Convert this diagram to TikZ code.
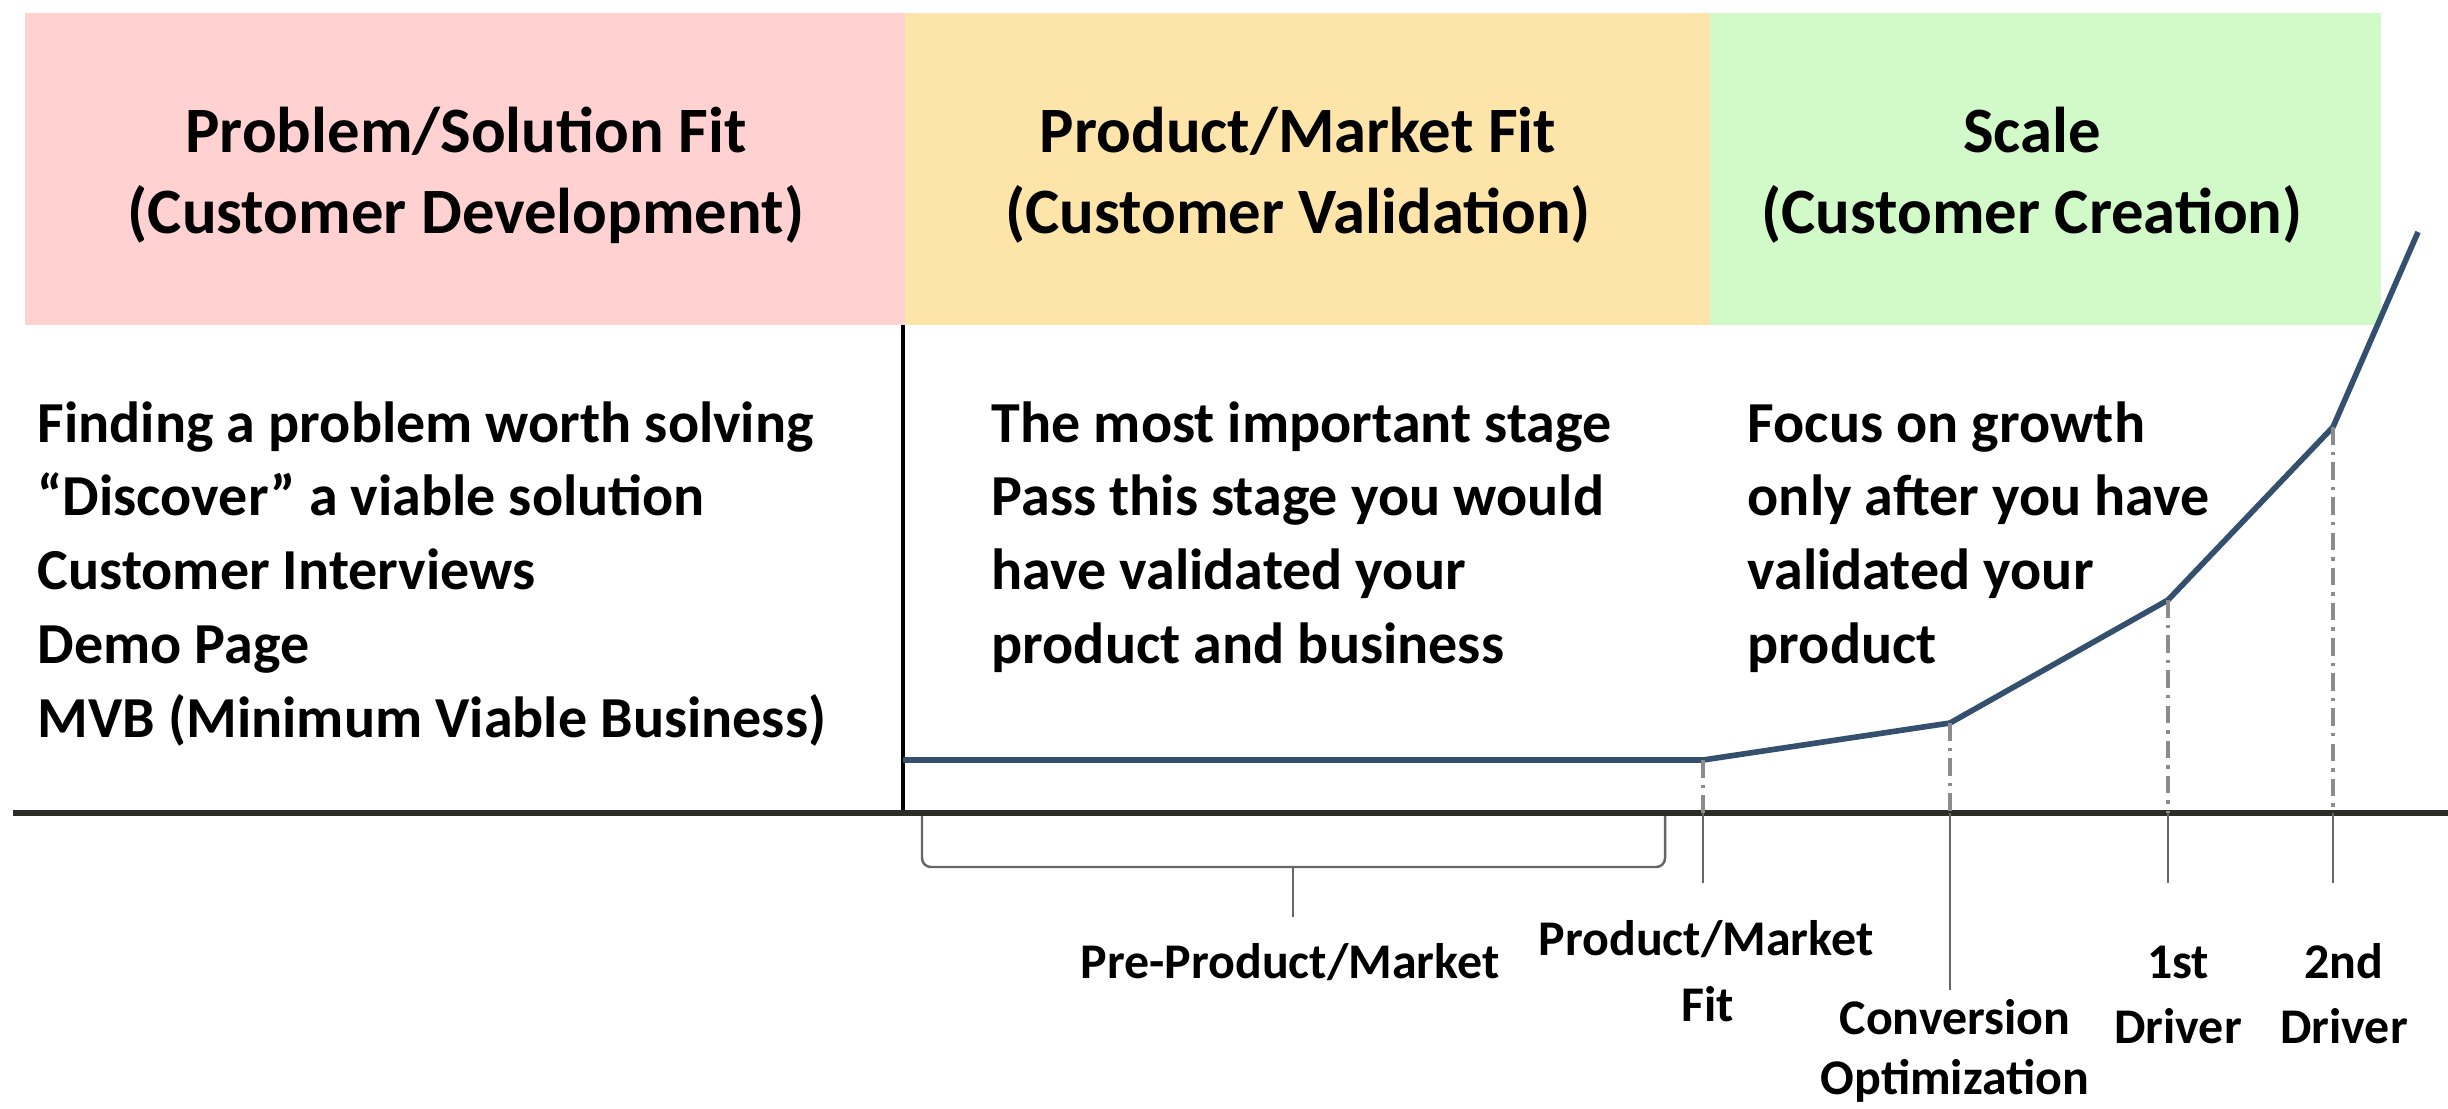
\documentclass[tikz,border=0pt]{standalone}
\usepackage{fontspec}
\setmainfont{Carlito}

\definecolor{bandpink}{RGB}{255,209,209}
\definecolor{bandyellow}{RGB}{253,228,168}
\definecolor{bandgreen}{RGB}{210,249,200}
\definecolor{curveblue}{RGB}{52,80,110}
\definecolor{axisgray}{RGB}{45,45,40}

\tikzset{
  head/.style={font=\fontsize{18.4}{22}\selectfont\bfseries, anchor=base, inner sep=0pt},
  body/.style={font=\fontsize{16.5}{20}\selectfont\bfseries, anchor=base west, inner sep=0pt},
  lab/.style={font=\fontsize{14.2}{17}\selectfont\bfseries, anchor=base, inner sep=0pt},
  guide/.style={draw=black!45, line width=0.9pt, dash pattern=on 5pt off 2pt on 1pt off 2pt},
  tick/.style={draw=black!60, line width=0.7pt},
}

\begin{document}
\begin{tikzpicture}[x=0.01cm, y=-0.01cm]
    \fill[white] (0,0) rectangle (2448,1109);
    \useasboundingbox (0,0) rectangle (2448,1109);

    % Stage bands
    \fill[bandpink] (25,13) rectangle (905,325);
    \fill[bandyellow] (905,13) rectangle (1710,325);
    \fill[bandgreen] (1710,13) rectangle (2381,325);

    % Stage titles
    \foreach \x/\y/\txt/\nm in {466/152/{Problem/Solution Fit}/ps1, 466/233/(Customer Development)/ps2,
        1298/152/{Product/Market Fit}/pm1, 1298/233/(Customer Validation)/pm2,
        2032/152/Scale/sc1, 2032/233/(Customer Creation)/sc2}
    \node[head] (\nm) at (\x,\y) {\txt};

    % Stage notes
    \foreach \txt [count=\i] in {Finding a problem worth solving, “Discover” a viable solution,
        Customer Interviews, Demo Page, MVB (Minimum Viable Business)}
    \node[body] (find\i) at (37,{442+73.8*(\i-1)}) {\txt};
    \foreach \txt [count=\i] in {The most important stage, Pass this stage you would,
        have validated your, product and business}
    \node[body] (valid\i) at (991,{442+73.8*(\i-1)}) {\txt};
    \foreach \txt [count=\i] in {Focus on growth, only after you have, validated your, product}
    \node[body] (grow\i) at (1747,{442+73.8*(\i-1)}) {\txt};

    % Divider and axis
    \coordinate (axis) at (0,813);
    \coordinate (divtop) at (903,325);
    \draw[black, line width=1.2pt] (divtop) -- (divtop |- axis);
    \draw[axisgray, line width=1.8pt] (13,813) -- (2448,813);

    % Growth curve
    \coordinate (start) at (903,760);
    \coordinate (pmf) at (1703,760);
    \coordinate (conv) at (1950,723);
    \coordinate (drv1) at (2168,600);
    \coordinate (drv2) at (2333,427);
    \coordinate (top) at (2418,232);
    \draw[curveblue, line width=1.6pt, line join=round] (start) -- (pmf) -- (conv) -- (drv1) -- (drv2) -- (top);

    % Milestone guides and ticks
    \foreach \p/\yb in {pmf/883, conv/990, drv1/883, drv2/883} {
        \draw[guide] (\p) -- (\p |- axis);
        \draw[tick] (\p |- axis) -- (\p |- 0,\yb);
    }

    % Pre-product bracket
    \draw[tick, rounded corners=2.5pt] (922,816) -- (922,867) -- (1665,867) -- (1665,816);
    \draw[tick] (1293,867) -- (1293,917);

    % Milestone labels
    \foreach \x/\y/\txt/\nm in {1290/978/{Pre-Product/Market}/pre,
        1706/955/{Product/Market}/pmfa, 1708/1021/Fit/pmfb,
        1955/1034/Conversion/conva, 1955/1094/Optimization/convb,
        2178/978/1st/drva, 2178/1043/Driver/drvb,
        2344/978/2nd/drvc, 2344/1043/Driver/drvd}
    \node[lab] (\nm) at (\x,\y) {\txt};
\end{tikzpicture}
\end{document}
